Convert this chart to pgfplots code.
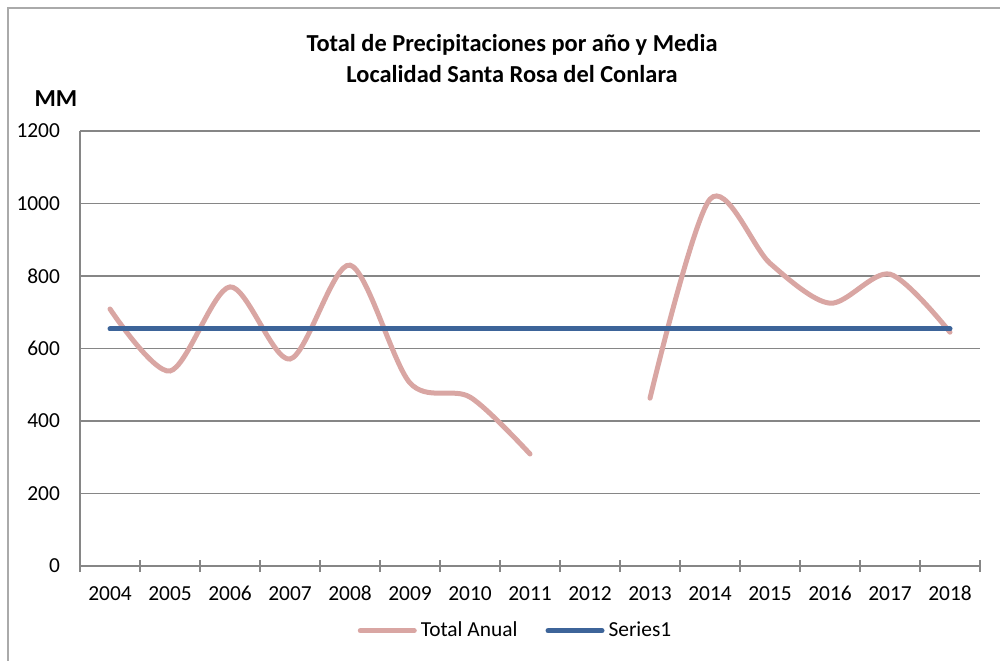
\documentclass[border=0pt]{standalone}
\usepackage{pgfplots}
\pgfplotsset{compat=1.18}
\usepackage{fontspec}
\setmainfont{Carlito}
\definecolor{pinkl}{RGB}{217,166,163}
\definecolor{bluel}{RGB}{61,100,153}
\definecolor{gridc}{RGB}{134,134,134}
\pgfplotstableread{
x y
0 709
1 538
2 770
3 571
4 830
5 505
6 466
7 309
8 nan
9 463
10 1012
11 835
12 725
13 805
14 645
}\totaldata
\pgfplotstableread{
x y
0 654
14 654
}\meandata
\begin{document}
\begin{tikzpicture}
\useasboundingbox (0,0) rectangle (500pt,-330pt);
\draw[gridc!70, line width=0.75pt] (4pt,-340pt) -- (4pt,-4pt) -- (510pt,-4pt);
\node[font=\bfseries\fontsize{12.2}{14}\selectfont] at (256pt,-22.5pt) {Total de Precipitaciones por año y Media};
\node[font=\bfseries\fontsize{12.2}{14}\selectfont] at (256pt,-37pt) {Localidad Santa Rosa del Conlara};
\node[font=\bfseries\fontsize{12.2}{14}\selectfont] at (28pt,-49.5pt) {MM};
\begin{axis}[
  at={(40pt,-283pt)}, anchor=south west,
  scale only axis, width=450pt, height=217.5pt,
  xmin=-0.5, xmax=14.5, ymin=0, ymax=1200,
  axis x line*=bottom, axis y line*=left,
  axis line style={gridc, line width=0.75pt, -},
  xtick={0,...,14},
  xticklabels={2004,2005,2006,2007,2008,2009,2010,2011,2012,2013,2014,2015,2016,2017,2018},
  minor xtick={-0.5,0.5,...,14.5},
  major tick length=0pt,
  minor tick length=6pt,
  tick align=center,
  minor x tick style={gridc, line width=0.75pt},
  major tick style={draw=none},
  ytick={0,200,...,1200},
  /pgf/number format/assume math mode=true,
  /pgf/number format/1000 sep={},
  ymajorgrids, grid style={gridc, line width=0.75pt},
  tick label style={font=\fontsize{10.7}{12}\selectfont, text=black},
  xticklabel style={anchor=base, yshift=-17pt},
  yticklabel style={xshift=-6.5pt},
  unbounded coords=jump,
  legend columns=2,
  legend style={at={(0.485,-0.149)}, anchor=center, draw=none, fill=none,
    font=\fontsize{10.7}{12}\selectfont,
    /tikz/every even column/.append style={column sep=12pt}},
  legend image code/.code={\draw[#1] (0pt,0pt) -- (27pt,0pt);},
]
\addplot[pinkl, line width=2.5pt, line cap=round, smooth, tension=0.5] table[x=x,y=y] {\totaldata};
\addlegendentry{Total Anual}
\addplot[bluel, line width=2.5pt, line cap=round] table[x=x,y=y] {\meandata};
\addlegendentry{Series1}
\end{axis}
\end{tikzpicture}
\end{document}
